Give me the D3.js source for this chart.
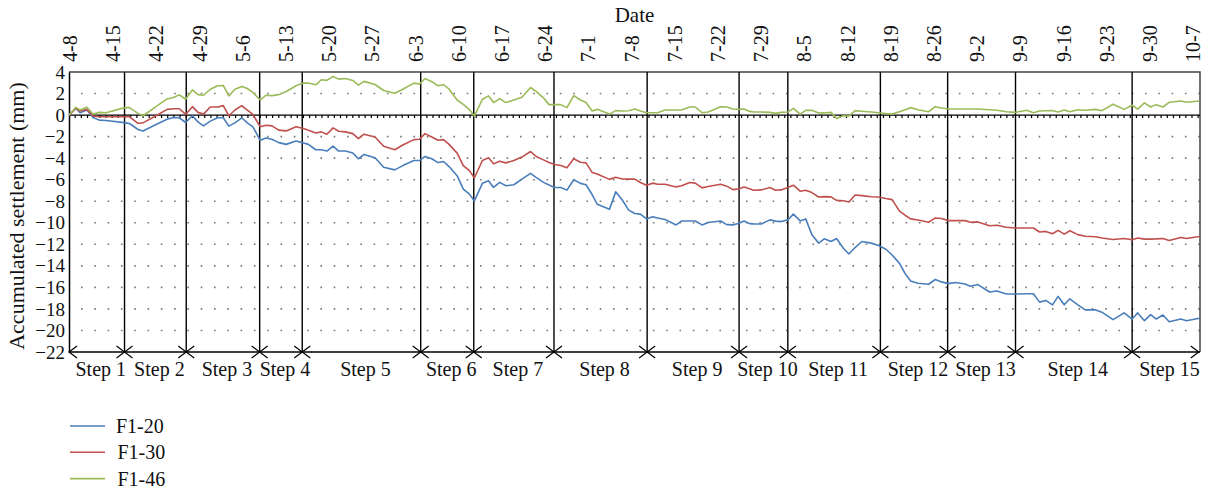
<!DOCTYPE html>
<html>
<head>
<meta charset="utf-8">
<script src="https://cdn.jsdelivr.net/npm/d3@7"></script>
<style>
  body { margin: 0; background: #fff; }
  svg { font-family: "Liberation Serif", "Times New Roman", serif; }
</style>
</head>
<body>
<svg id="chart" width="1208" height="496"></svg>
<script>
// tick labels on the top axis, one every 7 days starting 4-8
const dateLabels = ["4-8","4-15","4-22","4-29","5-6","5-13","5-20","5-27","6-3","6-10","6-17","6-24",
  "7-1","7-8","7-15","7-22","7-29","8-5","8-12","8-19","8-26","9-2","9-9","9-16","9-23","9-30","10-7"];

const yTicks = [4,2,0,-2,-4,-6,-8,-10,-12,-14,-16,-18,-20,-22];

// construction steps: boundaries in days after 4-8
const stepBounds = [0,9,19,30.9,37.8,57,65.6,78.6,93.7,108.6,116.5,131.5,142.4,153.4,172.3,183.1];
const stepNames = ["Step 1","Step 2","Step 3","Step 4","Step 5","Step 6","Step 7","Step 8",
  "Step 9","Step 10","Step 11","Step 12","Step 13","Step 14","Step 15"];

// measurement days (days after 4-8)
const days = [0,1.1,1.8,2.9,3.9,4.9,6.0,9.0,9.8,11.2,
  12.0,14.1,15.9,16.9,17.9,18.9,20.0,20.9,21.8,22.9,
  24.1,25.0,25.9,26.9,28.0,28.9,29.8,31.0,31.9,32.9,
  34.0,35.2,36.8,38.0,38.8,40.0,40.9,41.8,42.8,43.7,
  44.8,46.0,46.9,47.8,49.6,51.0,52.8,54.1,55.9,56.8,
  57.7,58.8,59.8,60.7,61.6,62.9,63.9,64.9,65.7,67.0,
  68.0,68.8,69.8,70.8,72.1,73.4,74.8,75.7,76.9,77.8,
  78.7,79.7,80.7,81.8,82.9,83.8,84.8,85.6,87.6,88.6,
  89.7,90.7,91.7,92.6,93.6,94.6,95.4,96.6,98.4,99.3,
  100.6,101.5,102.6,103.6,105.6,106.6,107.6,108.6,109.4,110.3,
  110.9,112.2,113.6,114.5,115.4,116.5,117.4,118.5,119.4,120.4,
  121.5,122.4,123.5,124.4,125.5,126.4,127.4,128.5,130.0,131.2,
  132.4,133.4,134.6,135.5,136.4,137.6,139.3,140.4,141.4,142.5,
  143.7,145.2,146.1,147.3,149.2,150.4,151.9,153.4,155.2,156.3,
  157.3,158.3,159.4,160.3,161.3,162.2,163.5,164.7,166.4,167.4,
  169.2,171.0,172.3,173.2,174.3,175.3,176.2,177.3,178.3,180.2,
  181.1,183.2];

// accumulated settlement (mm)
const f120 = [0,.63,.22,.47,-.22,-.47,-.5,-.7,-.78,-1.34,
  -1.47,-.88,-.38,-.22,-.25,-.69,-.06,-.63,-1.0,-.56,
  -.25,-.25,-1.03,-.72,-.25,-.72,-1.09,-2.34,-2.13,-2.25,
  -2.56,-2.72,-2.41,-2.59,-2.72,-3.22,-3.22,-3.34,-2.88,-3.34,
  -3.34,-3.53,-4.06,-3.66,-3.97,-4.84,-5.09,-4.69,-4.22,-4.22,
  -3.84,-4.06,-4.41,-4.31,-4.78,-5.63,-6.88,-7.34,-7.97,-6.34,
  -6.09,-6.72,-6.25,-6.56,-6.47,-5.94,-5.41,-5.78,-6.25,-6.5,
  -6.72,-6.72,-6.97,-6.0,-6.34,-6.47,-7.4,-8.28,-8.75,-7.13,
  -7.91,-8.83,-9.14,-9.2,-9.64,-9.45,-9.55,-9.7,-10.2,-9.83,
  -9.83,-9.83,-10.2,-9.98,-9.83,-10.17,-10.2,-10.05,-9.83,-10.08,
  -10.1,-10.11,-9.73,-9.85,-9.89,-9.73,-9.2,-9.83,-9.64,-11.11,
  -11.89,-11.49,-11.74,-11.46,-12.36,-12.9,-12.3,-11.74,-11.89,-12.11,
  -12.46,-12.99,-13.77,-14.71,-15.4,-15.62,-15.71,-15.27,-15.49,-15.65,
  -15.55,-15.68,-15.9,-15.74,-16.43,-16.34,-16.62,-16.62,-16.59,-16.59,
  -17.37,-17.21,-17.62,-16.84,-17.62,-17.06,-17.62,-18.09,-18.09,-18.3,
  -19.0,-18.37,-18.94,-18.37,-19.09,-18.53,-18.94,-18.56,-19.19,-18.94,
  -19.09,-18.87];

const f130 = [0,.63,.38,.53,-.09,-.16,-.16,-.16,-.16,-.78,
  -.72,-.06,.53,.59,.59,.06,.78,.25,.09,.75,
  .75,.88,-.06,.47,.88,.47,.06,-1.09,-.94,-1.0,
  -1.4,-1.47,-1.09,-1.25,-1.4,-1.66,-1.56,-1.78,-1.19,-1.5,
  -1.56,-1.72,-2.19,-1.78,-2.03,-2.9,-3.22,-2.78,-2.28,-2.25,
  -1.72,-2.03,-2.34,-2.28,-2.72,-3.53,-4.69,-5.16,-5.84,-4.22,
  -3.97,-4.53,-4.28,-4.44,-4.22,-3.9,-3.38,-3.84,-4.16,-4.4,
  -4.59,-4.69,-4.9,-4.06,-4.38,-4.44,-5.34,-5.47,-5.97,-5.78,
  -5.94,-5.95,-5.95,-6.26,-6.51,-6.32,-6.42,-6.42,-6.67,-6.57,
  -6.26,-6.32,-6.76,-6.64,-6.42,-6.6,-6.92,-6.85,-6.67,-6.85,
  -6.98,-6.95,-6.73,-6.98,-6.95,-6.73,-6.51,-7.07,-6.98,-7.2,
  -7.61,-7.57,-7.6,-7.92,-7.95,-8.07,-7.42,-7.48,-7.58,-7.61,
  -7.75,-7.85,-8.92,-9.3,-9.64,-9.75,-9.95,-9.55,-9.61,-9.8,
  -9.8,-9.8,-9.95,-9.92,-10.27,-10.23,-10.42,-10.49,-10.49,-10.49,
  -10.86,-10.8,-11.02,-10.7,-11.05,-10.74,-11.1,-11.25,-11.3,-11.42,
  -11.55,-11.46,-11.58,-11.42,-11.52,-11.52,-11.5,-11.46,-11.64,-11.36,
  -11.46,-11.27];

const f146 = [0,.72,.47,.72,.1,.25,.22,.69,.69,.16,
  -.06,.78,1.5,1.63,1.88,1.47,2.34,1.9,1.84,2.4,
  2.72,2.75,1.78,2.4,2.66,2.47,2.1,1.4,1.84,1.81,
  1.9,2.19,2.72,2.97,2.97,2.81,3.28,3.22,3.59,3.34,
  3.4,3.22,2.78,3.13,2.84,2.28,2.03,2.4,2.97,2.88,
  3.4,3.1,2.72,2.84,2.4,1.4,1.0,.5,-.09,1.47,
  1.78,1.16,1.53,1.16,1.4,1.66,2.56,2.2,1.6,.97,
  .97,.97,.69,1.81,1.4,1.16,.38,.53,.09,.41,
  .38,.4,.56,.38,.22,.22,.22,.47,.47,.47,
  .75,.75,.22,.28,.78,.75,.56,.53,.56,.34,
  .3,.28,.25,.16,.25,.28,.63,.09,.44,.44,
  .19,.2,.25,-.31,-.06,-.09,.41,.35,.28,.22,
  .14,.09,.31,.5,.69,.5,.31,.78,.65,.56,
  .56,.56,.56,.56,.5,.45,.31,.25,.44,.22,
  .38,.4,.41,.28,.47,.31,.5,.45,.53,.41,
  1.0,.53,.91,.56,1.13,.75,.97,.75,1.19,1.31,
  1.19,1.31];

const seriesNames = ["F1-20","F1-30","F1-46"];
const seriesColors = ["#4a7ebb","#c0504d","#9bbb59"];
const seriesValues = [f120, f130, f146];

// General Variables
let chart = d3.select("#chart");
const plotLeft = 69, plotRight = 1200, plotTop = 72, plotBottom = 352;

let x = d3.scaleLinear().domain([0, 183.3]).range([plotLeft, plotRight]);
let y = d3.scaleLinear().domain([-22, 4]).range([plotBottom, plotTop]);

// dotted gridlines
chart.append("g")
  .selectAll("line")
  .data(yTicks.filter(d => d !== 4 && d !== 0 && d !== -22))
  .enter().append("line")
  .attr("x1", plotLeft + 12).attr("x2", plotRight)
  .attr("y1", d => y(d)).attr("y2", d => y(d))
  .attr("stroke", "#777")
  .attr("stroke-width", 1.6)
  .attr("stroke-dasharray", "1.6 11.7");

// top and right border
chart.append("path")
  .attr("d", `M${plotLeft},${plotTop}H${plotRight}V${plotBottom}`)
  .attr("fill", "none")
  .attr("stroke", "#444")
  .attr("stroke-width", 1.5);

// zero line with daily ticks
chart.append("line")
  .attr("x1", plotLeft).attr("x2", plotRight)
  .attr("y1", y(0)).attr("y2", y(0))
  .attr("stroke", "#000").attr("stroke-width", 1.4);
chart.append("g")
  .selectAll("line")
  .data(d3.range(1, 184))
  .enter().append("line")
  .attr("x1", d => x(d)).attr("x2", d => x(d))
  .attr("y1", y(0)).attr("y2", y(0) + 3)
  .attr("stroke", "#000").attr("stroke-width", 1.2);

// step boundaries
chart.append("g")
  .selectAll("line")
  .data(stepBounds.slice(1, -1))
  .enter().append("line")
  .attr("x1", d => x(d)).attr("x2", d => x(d))
  .attr("y1", plotTop).attr("y2", plotBottom)
  .attr("stroke", "#000").attr("stroke-width", 1.4);

// y axis
let yAxis = d3.axisLeft(y).tickValues(yTicks).tickSize(0).tickPadding(4);
let yAxisGroup = chart.append("g")
  .attr("transform", `translate(${plotLeft},0)`)
  .call(yAxis);
yAxisGroup.select(".domain").attr("stroke", "#000").attr("stroke-width", 1.5);
yAxisGroup.selectAll("text")
  .attr("font-family", "Liberation Serif")
  .attr("font-size", 19)
  .attr("fill", "#111");

// y axis label
chart.append("text")
  .text("Accumulated settlement (mm)")
  .attr("transform", `translate(24,${(plotTop + plotBottom) / 2 + 4}) rotate(-90)`)
  .attr("text-anchor", "middle")
  .attr("font-size", 22)
  .attr("fill", "#111");

// date labels on top
chart.append("g")
  .selectAll("text")
  .data(dateLabels)
  .enter().append("text")
  .text(d => d)
  .attr("transform", (d, i) => `translate(${x(i * 7) + 1.5},62) rotate(-90)`)
  .attr("dy", "0.33em")
  .attr("text-anchor", "start")
  .attr("font-size", 20)
  .attr("fill", "#111");

chart.append("text")
  .text("Date")
  .attr("x", (plotLeft + plotRight) / 2)
  .attr("y", 22)
  .attr("text-anchor", "middle")
  .attr("font-size", 21)
  .attr("fill", "#111");

// bottom arrows per step
chart.append("line")
  .attr("x1", plotLeft).attr("x2", plotRight)
  .attr("y1", plotBottom).attr("y2", plotBottom)
  .attr("stroke", "#000").attr("stroke-width", 1.4);
let heads = [];
for (let i = 0; i < stepNames.length; i++) {
  let a = x(stepBounds[i]), b = x(stepBounds[i + 1]);
  heads.push(`M${a + 8},${plotBottom - 6}L${a},${plotBottom}L${a + 8},${plotBottom + 6}`);
  heads.push(`M${b - 8},${plotBottom - 6}L${b},${plotBottom}L${b - 8},${plotBottom + 6}`);
}
chart.append("path")
  .attr("d", heads.join(""))
  .attr("fill", "none")
  .attr("stroke", "#000")
  .attr("stroke-width", 1.2);

chart.append("g")
  .selectAll("text")
  .data(stepNames)
  .enter().append("text")
  .text(d => d)
  .attr("x", (d, i) => (x(stepBounds[i]) + x(stepBounds[i + 1])) / 2 + 4)
  .attr("y", 376)
  .attr("text-anchor", "middle")
  .attr("font-size", 20)
  .attr("fill", "#111");

// series lines
let line = d3.line()
  .x((d, i) => x(days[i]))
  .y(d => y(d));
seriesValues.forEach((vals, k) => {
  chart.append("path")
    .datum(vals)
    .attr("d", line)
    .attr("fill", "none")
    .attr("stroke", seriesColors[k])
    .attr("stroke-width", 1.6)
    .attr("stroke-linejoin", "round");
});

// LEGEND
seriesNames.forEach((name, k) => {
  let ly = 426 + k * 26.3;
  chart.append("line")
    .attr("x1", 70).attr("x2", 105)
    .attr("y1", ly).attr("y2", ly)
    .attr("stroke", seriesColors[k])
    .attr("stroke-width", 1.6);
  chart.append("text")
    .text(name)
    .attr("x", 116 + (k > 0 ? 1.5 : 0))
    .attr("y", ly)
    .attr("dy", "0.35em")
    .attr("font-size", 20)
    .attr("fill", "#111");
});
</script>
</body>
</html>
